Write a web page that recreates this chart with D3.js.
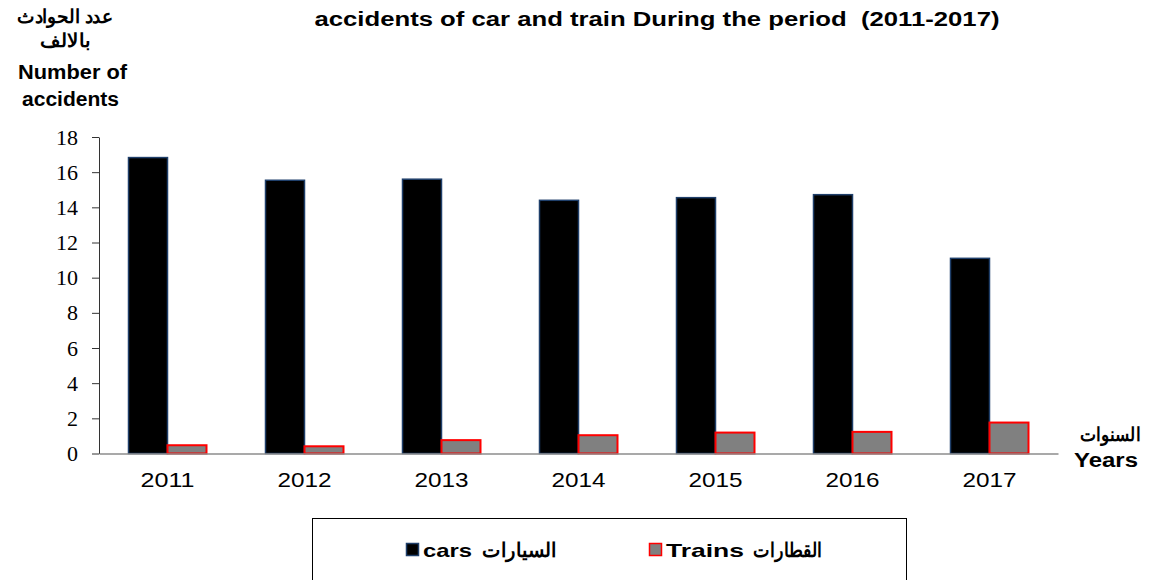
<!DOCTYPE html>
<html>
<head>
<meta charset="utf-8">
<script src="https://cdn.jsdelivr.net/npm/d3@7"></script>
<style>
  body { margin: 0; background: #fff; }
  svg { display: block; }
  .bold { font-family: "Liberation Sans", Arial, sans-serif; font-weight: bold; fill: #000; }
</style>
</head>
<body>
<div class="chart"></div>
<script>
const years = ["2011", "2012", "2013", "2014", "2015", "2016", "2017"];
const cars = [16.83, 15.54, 15.6, 14.4, 14.55, 14.72, 11.1];
const trains = [0.47, 0.41, 0.76, 1.04, 1.19, 1.23, 1.76];
const yTicks = [0, 2, 4, 6, 8, 10, 12, 14, 16, 18];

const W = 1149, H = 580;
const x0 = 99, x1 = 1058, yTop = 137, yBot = 453.5;
const barW = 39;

const svg = d3.select('.chart')
    .append('svg')
    .attr('width', W)
    .attr('height', H);

// the original picture is stretched sideways, so text gets a fixed width
function stretch(sel, len) {
    sel.attr('textLength', len).attr('lengthAdjust', 'spacingAndGlyphs');
}

const xScale = d3.scaleBand()
    .domain(years)
    .range([x0, x1])
    .padding(0);

const yScale = d3.scaleLinear()
    .domain([0, 18])
    .range([yBot, yTop]);

// bars
const data = years.map((y, i) => ({year: y, cars: cars[i], trains: trains[i]}));

svg.selectAll('.car')
    .data(data)
    .enter()
    .append('rect')
    .attr('class', 'car')
    .attr('x', d => xScale(d.year) + xScale.bandwidth() / 2 - barW)
    .attr('y', d => yScale(d.cars))
    .attr('width', barW)
    .attr('height', d => yBot - yScale(d.cars))
    .attr('fill', '#000')
    .attr('stroke', '#1f3f6a')
    .attr('stroke-width', 1.5);

svg.selectAll('.train')
    .data(data)
    .enter()
    .append('rect')
    .attr('class', 'train')
    .attr('x', d => xScale(d.year) + xScale.bandwidth() / 2)
    .attr('y', d => yScale(d.trains))
    .attr('width', barW)
    .attr('height', d => yBot - yScale(d.trains))
    .attr('fill', '#808080')
    .attr('stroke', '#ff0000')
    .attr('stroke-width', 2);

// axes
const yAxis = d3.axisLeft(yScale).tickValues(yTicks).tickSize(7).tickSizeOuter(0);
const gy = svg.append('g')
    .attr('transform', `translate(${x0},0)`)
    .call(yAxis);
gy.select('.domain').attr('stroke', '#333');
gy.selectAll('.tick line').attr('stroke', '#333');
gy.selectAll('.tick text')
    .attr('x', -21)
    .attr('font-family', '"Liberation Serif", "Times New Roman", serif')
    .attr('font-size', 22)
    .attr('fill', '#000');

const xAxis = d3.axisBottom(xScale).tickSize(0).tickSizeOuter(0);
const gx = svg.append('g')
    .attr('transform', `translate(0,${yBot})`)
    .call(xAxis);
gx.select('.domain').attr('stroke', '#8c8c8c').attr('stroke-width', 1.5);
gx.selectAll('.tick text')
    .attr('y', 19)
    .attr('font-family', '"Liberation Sans", Arial, sans-serif')
    .attr('font-size', 21)
    .attr('fill', '#000')
    .call(stretch, 54);

// title
svg.append('text')
    .attr('class', 'bold')
    .attr('x', 657)
    .attr('y', 26)
    .attr('text-anchor', 'middle')
    .attr('font-size', 20)
    .attr('xml:space', 'preserve')
    .text('accidents of car and train During the period  (2011-2017)')
    .call(stretch, 685);

// y label
const yl = [
    {t: 'عدد الحوادث', x: 65, y: 23, s: 19, w: 96},
    {t: 'بالالف', x: 65, y: 47, s: 19, w: 50},
    {t: 'Number of', x: 72.5, y: 79, s: 20, w: 109},
    {t: 'accidents', x: 70.5, y: 106, s: 20, w: 97}
];
svg.selectAll('.ylab')
    .data(yl)
    .enter()
    .append('text')
    .attr('class', 'bold ylab')
    .attr('x', d => d.x)
    .attr('y', d => d.y)
    .attr('text-anchor', 'middle')
    .attr('font-size', d => d.s)
    .attr('textLength', d => d.w)
    .attr('lengthAdjust', 'spacingAndGlyphs')
    .text(d => d.t);

// x label
svg.append('text')
    .attr('class', 'bold')
    .attr('x', 1110).attr('y', 441)
    .attr('text-anchor', 'middle')
    .attr('font-size', 19)
    .text('السنوات')
    .call(stretch, 60);
svg.append('text')
    .attr('class', 'bold')
    .attr('x', 1106).attr('y', 467)
    .attr('text-anchor', 'middle')
    .attr('font-size', 20)
    .text('Years')
    .call(stretch, 64);

// legend
svg.append('rect')
    .attr('x', 312.5).attr('y', 518.5)
    .attr('width', 594).attr('height', 80)
    .attr('fill', 'none')
    .attr('stroke', '#000')
    .attr('stroke-width', 1);

const legend = [
    {x: 406, fill: '#000', stroke: '#1f3f6a', label: 'cars', lw: 49, ar: 'السيارات', ax: 482, aw: 75},
    {x: 649, fill: '#808080', stroke: '#ff0000', label: 'Trains', lw: 78, ar: 'القطارات', ax: 753, aw: 69}
];
const lg = svg.selectAll('.leg')
    .data(legend)
    .enter()
    .append('g')
    .attr('class', 'leg');
lg.append('rect')
    .attr('x', d => d.x + 0.5).attr('y', 543.5)
    .attr('width', 12).attr('height', 12)
    .attr('fill', d => d.fill)
    .attr('stroke', d => d.stroke)
    .attr('stroke-width', 1.5);
lg.append('text')
    .attr('class', 'bold')
    .attr('x', d => d.x + 17).attr('y', 557)
    .attr('font-size', 19)
    .attr('textLength', d => d.lw)
    .attr('lengthAdjust', 'spacingAndGlyphs')
    .text(d => d.label);
lg.append('text')
    .attr('class', 'bold')
    .attr('x', d => d.ax).attr('y', 557)
    .attr('font-size', 20)
    .attr('textLength', d => d.aw)
    .attr('lengthAdjust', 'spacingAndGlyphs')
    .text(d => d.ar);
</script>
</body>
</html>
